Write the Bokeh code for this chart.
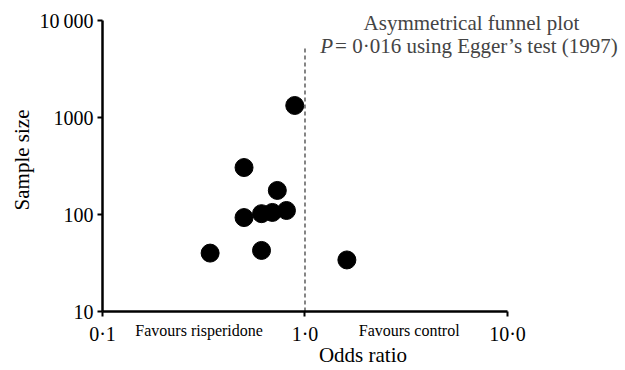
from bokeh.plotting import figure
from bokeh.models import FixedTicker, Label, LogAxis
from bokeh.embed import file_html
from bokeh.resources import INLINE

# Data
odds_ratio = [0.89, 0.50, 0.73, 0.50, 0.61, 0.69, 0.81, 0.34, 0.61, 1.61]
sample_size = [1330, 305, 177, 93, 102, 105, 110, 40, 42.6, 34]
x_ticks = [0.1, 1.0, 10.0]
x_tick_labels = ["0·1", "1·0", "10·0"]
y_ticks = [10, 100, 1000, 10000]
y_tick_labels = ["10", "100", "1000", "10\u2009000"]
side_labels = ["Favours risperidone", "Favours control"]
null_line_x = [1.0]
null_line_y0 = [10]
null_line_y1 = [5500]

FONT = "Liberation Serif"

# annotation anchor positions (data coordinates)
side_label_x = [0.30, 3.27]
title_x = 6.64
title_y1 = 9535
title_y2 = 5510
p_split_x = 1.392

p = figure(width=624, height=369, x_axis_type="log", y_axis_type="log",
           x_range=(0.1, 37.4), y_range=(10, 13300),
           output_backend="svg", toolbar_location=None,
           min_border_left=102, min_border_right=1,
           min_border_top=8, min_border_bottom=10)
p.outline_line_color = None
p.xgrid.grid_line_color = None
p.ygrid.grid_line_color = None
p.background_fill_color = "white"
p.border_fill_color = "white"


def style(ax, label_size="20px"):
    ax.axis_line_width = 2.5
    ax.axis_line_color = "black"
    ax.major_tick_line_width = 2
    ax.major_tick_line_color = "black"
    ax.major_tick_out = 5
    ax.major_tick_in = 0
    ax.minor_tick_line_color = None
    ax.major_label_text_font = FONT
    ax.major_label_text_font_size = label_size
    ax.major_label_text_color = "black"
    ax.major_label_text_line_height = 1.0
    ax.axis_label_text_font = FONT
    ax.axis_label_text_font_size = "21px"
    ax.axis_label_text_font_style = "normal"
    ax.axis_label_text_color = "black"
    ax.axis_label_text_line_height = 1.0


xa = p.xaxis[0]
ya = p.yaxis[0]
style(xa)
style(ya)

xa.ticker = FixedTicker(ticks=x_ticks)
xa.major_label_overrides = dict(zip(x_ticks, x_tick_labels))
xa.bounds = (0.1, 10)
xa.major_label_standoff = 6

ya.ticker = FixedTicker(ticks=y_ticks)
ya.major_label_overrides = dict(zip(y_ticks, y_tick_labels))
ya.bounds = (10, 10000)
ya.axis_label = "Sample size"
ya.major_label_standoff = 4
ya.axis_label_standoff = 2

# second bottom axis carrying the side captions and the axis title
fa = LogAxis()
style(fa, "16px")
fa.ticker = FixedTicker(ticks=side_label_x)
fa.major_label_overrides = dict(zip(side_label_x, side_labels))
fa.bounds = (0.1, 10)
fa.axis_line_color = None
fa.major_tick_line_color = None
fa.major_tick_out = 0
fa.major_label_standoff = -26
fa.axis_label = "Odds ratio"
fa.axis_label_standoff = 1
p.add_layout(fa, "below")

p.segment(x0=null_line_x, y0=null_line_y0, x1=null_line_x, y1=null_line_y1,
          line_color="#333333", line_width=1.2, line_dash="4 3")

p.scatter(odds_ratio, sample_size, size=18, color="black")

p.add_layout(Label(x=title_x, y=title_y1, text="Asymmetrical funnel plot", text_font=FONT,
                   text_font_size="21px", text_align="center", text_baseline="middle"))
p.add_layout(Label(x=p_split_x, y=title_y2, text="P", text_font=FONT, text_font_style="italic",
                   text_font_size="21px", text_align="right", text_baseline="middle",
                   x_offset=-1))
p.add_layout(Label(x=p_split_x, y=title_y2, text=" = 0·016 using Egger’s test (1997)", text_font=FONT,
                   text_font_size="21px", text_align="left", text_baseline="middle",
                   x_offset=1))

open("out.html", "w").write(file_html(p, INLINE))
